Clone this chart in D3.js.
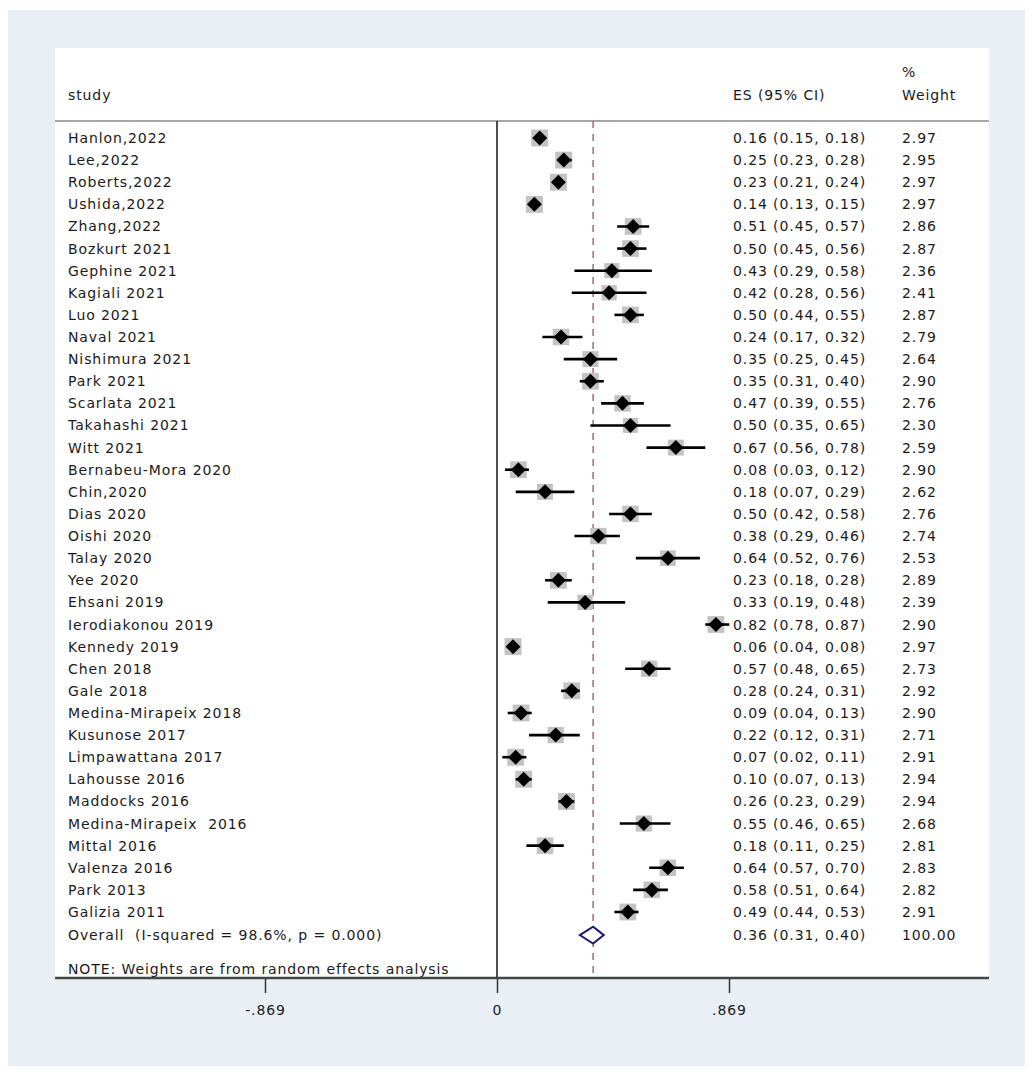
<!DOCTYPE html>
<html>
<head>
<meta charset="utf-8">
<script src="https://cdn.jsdelivr.net/npm/d3@7"></script>
<style>
  body { margin: 0; background: #fff; }
  text { font-family: "DejaVu Sans", Verdana, sans-serif; font-size: 14px; letter-spacing: 0.9px; fill: #1a1a1a; white-space: pre; }
</style>
</head>
<body>
<svg id="chart" width="1036" height="1080"></svg>
<script>
// study data
var studies = ["Hanlon,2022", "Lee,2022", "Roberts,2022", "Ushida,2022", "Zhang,2022",
    "Bozkurt 2021", "Gephine 2021", "Kagiali 2021", "Luo 2021", "Naval 2021",
    "Nishimura 2021", "Park 2021", "Scarlata 2021", "Takahashi 2021", "Witt 2021",
    "Bernabeu-Mora 2020", "Chin,2020", "Dias 2020", "Oishi 2020", "Talay 2020",
    "Yee 2020", "Ehsani 2019", "Ierodiakonou 2019", "Kennedy 2019", "Chen 2018",
    "Gale 2018", "Medina-Mirapeix 2018", "Kusunose 2017", "Limpawattana 2017", "Lahousse 2016",
    "Maddocks 2016", "Medina-Mirapeix  2016", "Mittal 2016", "Valenza 2016", "Park 2013",
    "Galizia 2011"];
var es = [0.16, 0.25, 0.23, 0.14, 0.51, 0.50, 0.43, 0.42, 0.50, 0.24,
    0.35, 0.35, 0.47, 0.50, 0.67, 0.08, 0.18, 0.50, 0.38, 0.64,
    0.23, 0.33, 0.82, 0.06, 0.57, 0.28, 0.09, 0.22, 0.07, 0.10,
    0.26, 0.55, 0.18, 0.64, 0.58, 0.49];
var lower = [0.15, 0.23, 0.21, 0.13, 0.45, 0.45, 0.29, 0.28, 0.44, 0.17,
    0.25, 0.31, 0.39, 0.35, 0.56, 0.03, 0.07, 0.42, 0.29, 0.52,
    0.18, 0.19, 0.78, 0.04, 0.48, 0.24, 0.04, 0.12, 0.02, 0.07,
    0.23, 0.46, 0.11, 0.57, 0.51, 0.44];
var upper = [0.18, 0.28, 0.24, 0.15, 0.57, 0.56, 0.58, 0.56, 0.55, 0.32,
    0.45, 0.40, 0.55, 0.65, 0.78, 0.12, 0.29, 0.58, 0.46, 0.76,
    0.28, 0.48, 0.87, 0.08, 0.65, 0.31, 0.13, 0.31, 0.11, 0.13,
    0.29, 0.65, 0.25, 0.70, 0.64, 0.53];
var weights = [2.97, 2.95, 2.97, 2.97, 2.86, 2.87, 2.36, 2.41, 2.87, 2.79,
    2.64, 2.90, 2.76, 2.30, 2.59, 2.90, 2.62, 2.76, 2.74, 2.53,
    2.89, 2.39, 2.90, 2.97, 2.73, 2.92, 2.90, 2.71, 2.91, 2.94,
    2.94, 2.68, 2.81, 2.83, 2.82, 2.91];
var overall = { label: "Overall  (I-squared = 98.6%, p = 0.000)", es: 0.36, lo: 0.31, hi: 0.40, w: 100 };
var tickValues = [-0.869, 0, 0.869];
var tickLabels = ["-.869", "0", ".869"];

var svg = d3.select("#chart");
var f2 = d3.format(".2f");

// backgrounds
svg.append("rect").attr("x", 8).attr("y", 10).attr("width", 1017).attr("height", 1056).attr("fill", "#e9eff4");
svg.append("rect").attr("x", 55).attr("y", 48).attr("width", 934).attr("height", 930).attr("fill", "#fff");

var x = d3.scaleLinear().domain([0, 0.869]).range([497, 729]);
var y = d3.scaleLinear().domain([0, studies.length - 1]).range([138, 912]);
var headY = 121, axisY = 978;

// header
svg.append("line").attr("x1", 55).attr("x2", 989).attr("y1", headY).attr("y2", headY)
    .attr("stroke", "#888").attr("stroke-width", 1.5);
svg.append("text").attr("x", 68).attr("y", 100).text("study");
svg.append("text").attr("x", 733).attr("y", 100).text("ES (95% CI)");
svg.append("text").attr("x", 902).attr("y", 77).text("%");
svg.append("text").attr("x", 902).attr("y", 100).text("Weight");

// null line + overall dashed line
svg.append("line").attr("x1", x(0)).attr("x2", x(0)).attr("y1", headY).attr("y2", axisY)
    .attr("stroke", "#222").attr("stroke-width", 1.6);
svg.append("line").attr("x1", x(overall.es)).attr("x2", x(overall.es)).attr("y1", headY).attr("y2", axisY)
    .attr("stroke", "#a86878").attr("stroke-width", 1.5).attr("stroke-dasharray", "7,6");

var rows = svg.append("g").selectAll("g").data(studies).enter().append("g")
    .attr("transform", function (d, i) { return "translate(0," + y(i) + ")"; });

// weight squares
var sMax = 17;
function side(i) { return sMax * Math.sqrt(weights[i] / 2.97); }
rows.append("rect")
    .attr("x", function (d, i) { return x(es[i]) - side(i) / 2; })
    .attr("y", function (d, i) { return -side(i) / 2; })
    .attr("width", function (d, i) { return side(i); })
    .attr("height", function (d, i) { return side(i); })
    .attr("fill", "#c3c3c3");

rows.append("line")
    .attr("x1", function (d, i) { return x(lower[i]); })
    .attr("x2", function (d, i) { return x(upper[i]); })
    .attr("stroke", "#000").attr("stroke-width", 2.6);

rows.append("path")
    .attr("d", function (d, i) { var c = x(es[i]); return "M" + (c - 7.5) + ",0L" + c + ",-7.5L" + (c + 7.5) + ",0L" + c + ",7.5Z"; })
    .attr("fill", "#000");

rows.append("text").attr("x", 68).attr("y", 5).text(function (d) { return d; });
rows.append("text").attr("x", 733).attr("y", 5)
    .text(function (d, i) { return f2(es[i]) + " (" + f2(lower[i]) + ", " + f2(upper[i]) + ")"; });
rows.append("text").attr("x", 902).attr("y", 5).text(function (d, i) { return f2(weights[i]); });

// overall row
var oy = y(studies.length) + 1;
svg.append("path")
    .attr("d", "M" + x(overall.lo) + "," + oy + "L" + x(overall.es) + "," + (oy - 8.5) +
        "L" + x(overall.hi) + "," + oy + "L" + x(overall.es) + "," + (oy + 8.5) + "Z")
    .attr("fill", "#fff").attr("stroke", "#1c1c70").attr("stroke-width", 2);
svg.append("text").attr("x", 68).attr("y", oy + 5).text(overall.label);
svg.append("text").attr("x", 733).attr("y", oy + 5)
    .text(f2(overall.es) + " (" + f2(overall.lo) + ", " + f2(overall.hi) + ")");
svg.append("text").attr("x", 902).attr("y", oy + 5).text(f2(overall.w));

svg.append("text").attr("x", 68).attr("y", 974).text("NOTE: Weights are from random effects analysis");

// x axis
var axis = d3.axisBottom(x).tickValues(tickValues)
    .tickFormat(function (d, i) { return tickLabels[i]; })
    .tickSize(15).tickPadding(12);
var ag = svg.append("g").attr("transform", "translate(0," + axisY + ")").call(axis);
ag.select(".domain").remove();
ag.selectAll(".tick line").attr("stroke", "#333").attr("stroke-width", 1.5);
ag.selectAll(".tick text").style("font-family", "'DejaVu Sans', sans-serif").style("font-size", "14px").attr("fill", "#222");
svg.append("line").attr("x1", 55).attr("x2", 989).attr("y1", axisY).attr("y2", axisY)
    .attr("stroke", "#444").attr("stroke-width", 2.5);
</script>
</body>
</html>
